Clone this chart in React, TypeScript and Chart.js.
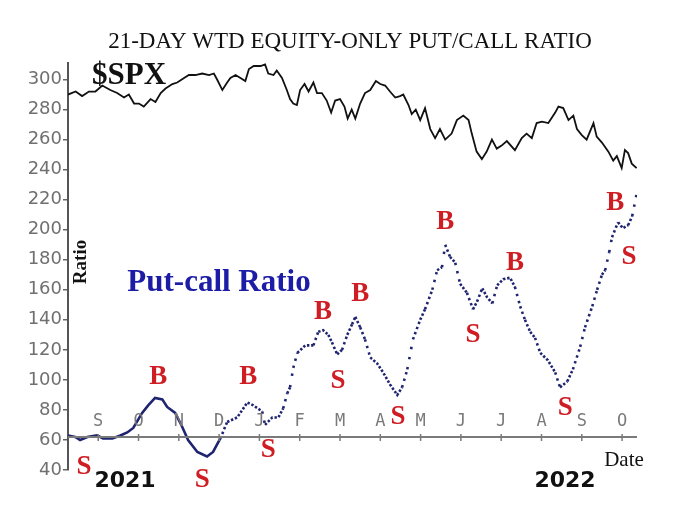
import { useEffect, useRef } from "react";
import { Chart, registerables, ChartConfiguration, Plugin } from "chart.js";

Chart.register(...registerables);

// x values are months counted from 1 Aug 2021 (1 = Sep 2021, 14 = Oct 2022)
const monthTicks = [1, 2, 3, 4, 5, 6, 7, 8, 9, 10, 11, 12, 13, 14];
const monthLetters = ["S", "O", "N", "D", "J", "F", "M", "A", "M", "J", "J", "A", "S", "O"];
const yearLabels = ["2021", "2022"];

const spxMonths = [
  0.25, 0.44, 0.6, 0.77, 0.93, 1.1, 1.3, 1.47, 1.64, 1.76, 1.89, 2.01, 2.13, 2.3, 2.42, 2.55, 2.67, 2.84, 2.96,
  3.13, 3.25, 3.41, 3.58, 3.75, 3.87, 3.95, 4.08, 4.2, 4.28, 4.41, 4.53, 4.65, 4.74, 4.86, 5.03, 5.14, 5.22,
  5.35, 5.43, 5.56, 5.68, 5.76, 5.84, 5.93, 6.01, 6.12, 6.22, 6.34, 6.43, 6.55, 6.67, 6.78, 6.88, 7.0, 7.11,
  7.19, 7.29, 7.38, 7.5, 7.62, 7.75, 7.89, 8.0, 8.12, 8.24, 8.37, 8.49, 8.57, 8.7, 8.78, 8.88, 8.99, 9.11,
  9.24, 9.36, 9.48, 9.61, 9.77, 9.9, 10.06, 10.19, 10.27, 10.39, 10.52, 10.64, 10.77, 10.89, 11.01, 11.14,
  11.34, 11.51, 11.63, 11.76, 11.88, 12.01, 12.17, 12.34, 12.42, 12.54, 12.67, 12.79, 12.88, 13.0, 13.12,
  13.29, 13.37, 13.5, 13.66, 13.78, 13.87, 13.99, 14.07, 14.15, 14.24, 14.36,
];
const spxValues = [
  290, 292, 289, 292, 292, 296, 293, 291, 288, 290, 284, 284, 282, 287, 285, 291, 294, 297, 298,
  301, 303, 303, 304, 303, 304, 300, 293, 298, 301, 303, 301, 299, 307, 309, 309, 310, 304,
  303, 306, 301, 293, 287, 284, 283, 293, 297, 292, 298, 291, 291, 286, 278, 286, 287, 282,
  274, 280, 274, 284, 291, 293, 299, 297, 296, 292, 288, 289, 290, 283, 277, 280, 273, 281,
  267, 261, 267, 260, 264, 273, 276, 273, 264, 252, 247, 252, 260, 254, 256, 259,
  253, 261, 264, 261, 271, 272, 271, 278, 282, 281, 273, 276, 267, 263, 260,
  271, 262, 258, 252, 246, 249, 241, 253, 251, 244, 241,
];

const ratioMonths = [
  0.25, 0.43, 0.55, 0.73, 0.97, 1.12, 1.35, 1.55, 1.72, 1.87, 2.09, 2.24, 2.41, 2.59, 2.71, 2.91, 3.08, 3.23,
  3.46, 3.7, 3.85, 4.03, 4.2, 4.45, 4.7, 4.85, 5.07, 5.14, 5.32, 5.47, 5.59, 5.69, 5.76, 5.84, 5.94, 6.14,
  6.34, 6.46, 6.58, 6.71, 6.8, 6.93, 7.05, 7.18, 7.3, 7.38, 7.5, 7.62, 7.75, 7.92, 8.07, 8.24, 8.42, 8.54,
  8.67, 8.81, 8.99, 9.11, 9.29, 9.41, 9.53, 9.61, 9.73, 9.86, 9.98, 10.15, 10.3, 10.4, 10.53, 10.65, 10.78,
  10.9, 11.05, 11.22, 11.34, 11.47, 11.59, 11.72, 11.84, 11.97, 12.16, 12.34, 12.46, 12.64, 12.78, 12.96,
  13.08, 13.26, 13.38, 13.5, 13.58, 13.68, 13.75, 13.9, 14.02, 14.15, 14.25, 14.37,
];
const ratioValues = [
  63, 62, 60, 62, 63, 61, 61, 63, 65, 68, 78, 83, 88, 87, 82, 78, 69, 60,
  52, 49, 52, 61, 72, 75, 85, 83, 79, 70, 75, 75, 81, 91, 95, 108, 118, 123,
  123, 132, 133, 130, 125, 117, 120, 130, 137, 142, 135, 127, 115, 111, 105, 97, 90, 95,
  107, 127, 140, 147, 160, 173, 175, 190, 182, 178, 164, 158, 147, 152, 161, 155, 151,
  163, 167, 168, 162, 149, 140, 132, 128, 118, 113, 105, 95, 99, 107, 122,
  135, 149, 160, 170, 173, 185, 195, 205, 201, 203, 209, 225,
];

// buy / sell signal letters placed at (month, ratio level)
const signalLetters = ["S", "S", "S", "S", "S", "S", "S", "S", "B", "B", "B", "B", "B", "B", "B"];
const signalMonths = [0.65, 3.58, 5.22, 6.95, 8.44, 10.3, 12.59, 14.17, 2.49, 4.72, 6.58, 7.5, 9.61, 11.34, 13.83];
const signalValues = [42, 33, 53, 99, 75, 130, 81, 182, 102, 102, 145, 157, 205, 178, 218];

const xAxisLevel = 62;
const dottedFrom = 4.0;

const decorations: Plugin<"line"> = {
  id: "decorations",
  afterDatasetsDraw(chart) {
    const { ctx, scales } = chart;
    const xs = scales.x;
    const ys = scales.y;
    const area = chart.chartArea;
    ctx.save();

    // date axis drawn across the plot at ratio level 62
    const ay = ys.getPixelForValue(xAxisLevel);
    ctx.strokeStyle = "#7a7a7a";
    ctx.lineWidth = 2;
    ctx.beginPath();
    ctx.moveTo(area.left, ay);
    ctx.lineTo(area.right, ay);
    ctx.stroke();
    ctx.lineWidth = 1.5;
    ctx.fillStyle = "#7a7a7a";
    ctx.font = "17px 'DejaVu Sans Mono'";
    ctx.textAlign = "center";
    ctx.textBaseline = "middle";
    monthTicks.forEach((m, i) => {
      const px = xs.getPixelForValue(m);
      ctx.beginPath();
      ctx.moveTo(px, ay - 3);
      ctx.lineTo(px, ay + 4);
      ctx.stroke();
      ctx.fillText(monthLetters[i], px, ay - 15);
    });

    // signals
    ctx.fillStyle = "#cf1d24";
    ctx.font = "bold 27px 'Liberation Serif'";
    signalLetters.forEach((s, i) => {
      ctx.fillText(s, xs.getPixelForValue(signalMonths[i]), ys.getPixelForValue(signalValues[i]));
    });

    // texts
    ctx.fillStyle = "#111";
    ctx.font = "23px 'Liberation Serif'";
    ctx.fillText("21-DAY WTD EQUITY-ONLY PUT/CALL RATIO", 350, 42);

    ctx.font = "bold 31px 'Liberation Serif'";
    ctx.fillText("$SPX", 129, 76);

    ctx.fillStyle = "#1c1ca6";
    ctx.font = "bold 31px 'Liberation Serif'";
    ctx.fillText("Put-call Ratio", 219, 283);

    ctx.fillStyle = "#111";
    ctx.font = "21px 'Liberation Serif'";
    ctx.fillText("Date", 624, 460);

    ctx.font = "bold 22px 'DejaVu Sans'";
    ctx.fillText(yearLabels[0], 125, 481);
    ctx.fillText(yearLabels[1], 565, 481);

    ctx.translate(81, 262);
    ctx.rotate(-Math.PI / 2);
    ctx.font = "bold 19px 'Liberation Serif'";
    ctx.fillText("Ratio", 0, 0);
    ctx.restore();
  },
};

const App = () => {
  const chartRef = useRef<HTMLCanvasElement>(null);

  useEffect(() => {
    if (!chartRef.current) return;
    const ctx = chartRef.current.getContext("2d");
    if (!ctx) return;

    const config: ChartConfiguration<"line"> = {
      type: "line",
      data: {
        datasets: [
          {
            label: "$SPX",
            data: spxMonths.map((m, i) => ({ x: m, y: spxValues[i] })),
            borderColor: "#111",
            borderWidth: 1.8,
            pointRadius: 0,
            tension: 0,
          },
          {
            label: "Put-call Ratio",
            data: ratioMonths.map((m, i) => ({ x: m, y: ratioValues[i] })),
            borderColor: "#1f2470",
            borderWidth: 2.6,
            pointRadius: 0,
            tension: 0,
            segment: {
              borderDash: (c) => {
                if ((c.p0 as any).parsed.x < dottedFrom) return undefined;
                const dx = c.p1.x - c.p0.x;
                const dy = c.p1.y - c.p0.y;
                const days = Math.max(1, dx / 1.9);
                const step = Math.max(4.2, Math.hypot(dx, dy) / days);
                return [2.4, step - 2.4];
              },
            },
          },
        ],
      },
      options: {
        responsive: false,
        animation: false,
        layout: { padding: { top: 63, right: 63, bottom: 52, left: 0 } },
        plugins: {
          legend: { display: false },
          tooltip: { enabled: false },
          title: { display: false },
        },
        scales: {
          x: { type: "linear", min: 0.25, max: 14.37, display: false },
          y: {
            type: "linear",
            min: 40,
            max: 311,
            afterFit: (s) => {
              s.width = 68;
            },
            ticks: {
              stepSize: 20,
              includeBounds: false,
              color: "#707070",
              padding: 1,
              font: { family: "DejaVu Sans", size: 18 },
            },
            grid: { drawOnChartArea: false, drawTicks: true, tickLength: 5, color: "#666", lineWidth: 1.5 },
            border: { display: true, color: "#555", width: 2 },
          },
        },
      },
      plugins: [decorations],
    };

    const chart = new Chart(ctx, config);
    return () => {
      chart.destroy();
    };
  }, []);

  return (
    <div style={{ position: "absolute", left: 0, top: 0, width: 700, height: 522, background: "#fff" }}>
      <canvas ref={chartRef} width={700} height={522} />
    </div>
  );
};

export default App;
